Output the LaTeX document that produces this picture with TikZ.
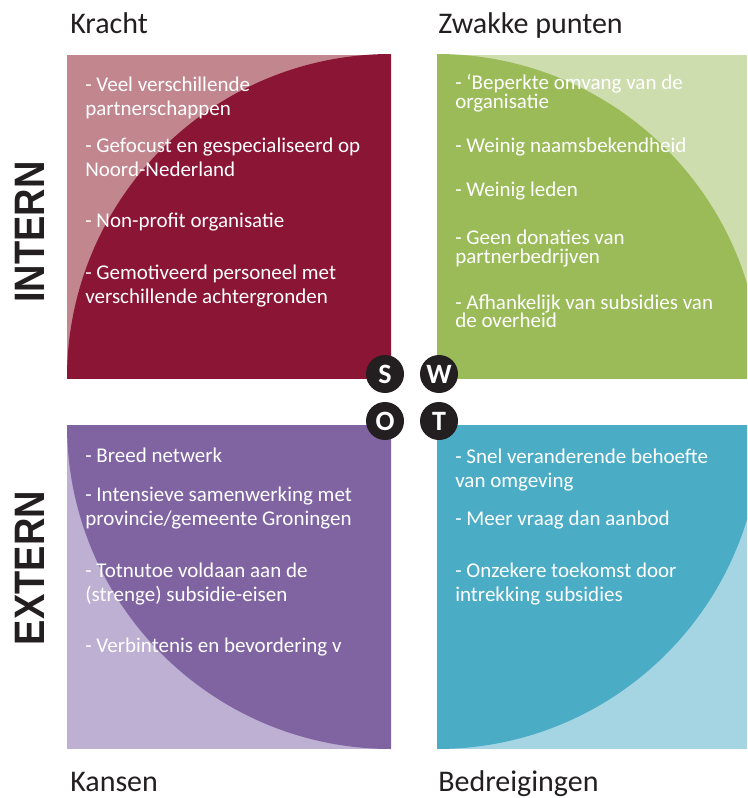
\documentclass[tikz,border=0pt]{standalone}
\usepackage{fontspec}
\setmainfont{Carlito}
\newfontfamily\sidefont{Liberation Sans}
\usetikzlibrary{positioning}

\definecolor{krachtdark}{HTML}{8B1535}
\definecolor{krachtlight}{HTML}{C2868F}
\definecolor{zwakdark}{HTML}{9BBB59}
\definecolor{zwaklight}{HTML}{CEDDAD}
\definecolor{kansdark}{HTML}{8064A2}
\definecolor{kanslight}{HTML}{BDB0D2}
\definecolor{dreigdark}{HTML}{4BACC6}
\definecolor{dreiglight}{HTML}{A5D5E2}
\definecolor{swotblack}{HTML}{231F20}

% two lines, baseline on the first one
\newcommand{\twolines}[2]{\vtop{\lineskiplimit=-\maxdimen\hbox{#1}\hbox{#2}}}

\tikzset{
  item/.style={anchor=base west, inner sep=0pt, text=white,
    font=\fontsize{15.75}{18}\selectfont},
  tightitem/.style={item, font=\fontsize{15.75}{14}\selectfont},
  title/.style={anchor=base west, inner sep=0pt, text=swotblack,
    font=\fontsize{22.5}{27}\selectfont},
  side/.style={rotate=90, yscale=1.12, inner sep=0pt, text=swotblack,
    font=\sidefont\bfseries\fontsize{28.5}{30}\selectfont},
  swot/.style={circle, fill=swotblack, text=white, minimum size=28.5pt,
    inner sep=0pt, font=\bfseries\fontsize{21}{21}\selectfont}
}

\begin{document}
\begin{tikzpicture}[x=0.75pt, y=-0.75pt, on grid]
			\useasboundingbox (0,0) rectangle (747,798);

			% quadrants
			\begin{scope}
				\clip (67,55) rectangle (391,378);
				\fill[krachtlight] (67,55) rectangle (391,378);
				\fill[krachtdark] (391,378) circle[radius=243pt];
			\end{scope}
			\begin{scope}
				\clip (437,55) rectangle (747,378);
				\fill[zwaklight] (437,55) rectangle (747,378);
				\fill[zwakdark] (437,378) circle[radius=243pt];
			\end{scope}
			\begin{scope}
				\clip (67,425) rectangle (391,749);
				\fill[kanslight] (67,425) rectangle (391,749);
				\fill[kansdark] (391,425) circle[radius=243pt];
			\end{scope}
			\begin{scope}
				\clip (437,425) rectangle (747,749);
				\fill[dreiglight] (437,425) rectangle (747,749);
				\fill[dreigdark] (437,425) circle[radius=243pt];
			\end{scope}

			% titles
			\node[title] (kracht) at (70,34) {Kracht};
			\node[title] (zwak) at (438,34) {Zwakke punten};
			\node[title] (kans) at (70,791) {Kansen};
			\node[title] (dreig) at (438,791) {Bedreigingen};

			\node[side] (intern) at (30,232) {INTERN};
			\node[side] (extern) at (30,568) {EXTERN};

			% kracht
			\node[item] (k1) at (85,92) {\twolines{- Veel verschillende}{partnerschappen}};
			\node[item] (k2) at (85,153) {\twolines{- Gefocust en gespecialiseerd op}{Noord-Nederland}};
			\node[item] (k3) at (85,228) {- Non-profit organisatie};
			\node[item] (k4) at (85,279) {\twolines{- Gemotiveerd personeel met}{verschillende achtergronden}};

			% zwakke punten
			\node[tightitem] (z1) at (455,90) {\twolines{- ‘Beperkte omvang van de}{organisatie}};
			\node[item] (z2) at (455,153) {- Weinig naamsbekendheid};
			\node[item] (z3) at (455,197) {- Weinig leden};
			\node[tightitem] (z4) at (455,245) {\twolines{- Geen donaties van}{partnerbedrijven}};
			\node[tightitem] (z5) at (455,309) {\twolines{- Afhankelijk van subsidies van}{de overheid}};

			% kansen
			\node[item] (o1) at (85,462) {- Breed netwerk};
			\node[item] (o2) at (85,501) {\twolines{- Intensieve samenwerking met}{provincie/gemeente Groningen}};
			\node[item] (o3) at (85,577) {\twolines{- Totnutoe voldaan aan de}{(strenge) subsidie-eisen}};
			\node[item] (o4) at (85,652) {- Verbintenis en bevordering v};

			% bedreigingen
			\node[item] (t1) at (455,463) {\twolines{- Snel veranderende behoefte}{van omgeving}};
			\node[item] (t2) at (455,525) {- Meer vraag dan aanbod};
			\node[item] (t3) at (455,577) {\twolines{- Onzekere toekomst door}{intrekking subsidies}};

			% swot
			\node[swot] (s) at (385,374) {S};
			\node[swot, right=40.5pt of s] (w) {W};
			\node[swot, below=35.25pt of s] (o) {O};
			\node[swot, below=35.25pt of w] (t) {T};
\end{tikzpicture}
\end{document}
